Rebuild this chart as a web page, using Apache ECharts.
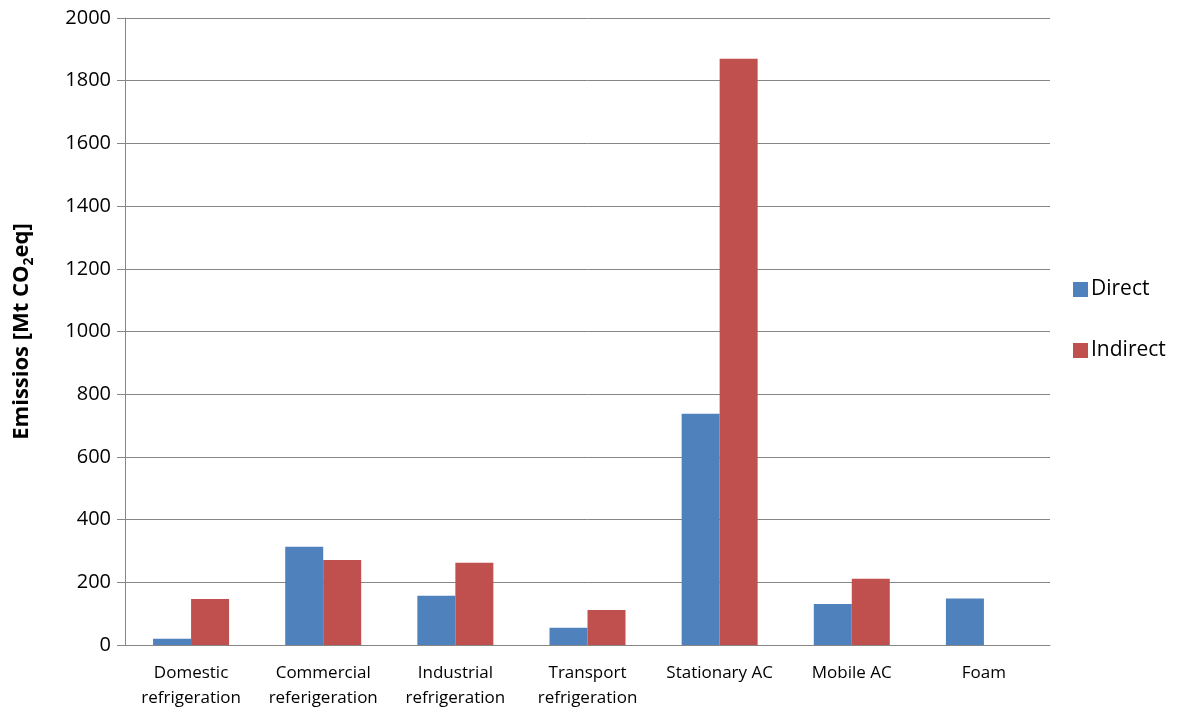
<!DOCTYPE html>
<html>
<head>
<meta charset="utf-8">
<script src="https://cdn.jsdelivr.net/npm/echarts@6/dist/echarts.min.js"></script>
<style>
  html, body { margin: 0; padding: 0; background: #fff; }
  #chart { width: 1184px; height: 713px; }
</style>
</head>
<body>
<div id="chart"></div>
<script>
const categories = [
  "Domestic\nrefrigeration",
  "Commercial\nreferigeration",
  "Industrial\nrefrigeration",
  "Transport\nrefrigeration",
  "Stationary AC",
  "Mobile AC",
  "Foam"
]
const directValues = [20, 313, 157, 55, 738, 131, 148]
const indirectValues = [147, 271, 262, 112, 1870, 211, 0]
const seriesNames = ["Direct", "Indirect"]

const font = "Open Sans"
const myChart = echarts.init(document.getElementById("chart"))

myChart.setOption({
  animation: false,
  textStyle: { fontFamily: font },
  grid: { left: 125, right: 134, top: 18, bottom: 68 },
  legend: {
    orient: "vertical",
    left: 1068,
    top: 274,
    itemWidth: 15,
    itemHeight: 15,
    itemGap: 40,
    icon: "rect",
    textStyle: { fontSize: 21, color: "#000", fontFamily: font, padding: [0, 0, 0, -2] },
    data: seriesNames
  },
  xAxis: {
    type: "category",
    data: categories,
    axisLine: { lineStyle: { color: "#868686", width: 1 } },
    axisTick: { length: 8, lineStyle: { color: "#868686" } },
    axisLabel: { fontSize: 17, color: "#000", lineHeight: 25, margin: 16, interval: 0 }
  },
  yAxis: {
    type: "value",
    min: 0,
    max: 2000,
    interval: 200,
    name: "{a|Emissios [Mt CO}{s|2}{a|eq}{a|]}",
    nameLocation: "middle",
    nameGap: 92,
    nameRotate: 90,
    nameTextStyle: {
      rich: {
        a: { fontSize: 22, fontWeight: "bold", color: "#000", fontFamily: font, lineHeight: 28, verticalAlign: "bottom" },
        s: { fontSize: 14, fontWeight: "bold", color: "#000", fontFamily: font, lineHeight: 14, verticalAlign: "bottom", padding: [0, 0, -3, 0] }
      }
    },
    axisLine: { show: true, lineStyle: { color: "#868686", width: 1 } },
    axisTick: { show: true, length: 8, lineStyle: { color: "#868686" } },
    splitLine: { lineStyle: { color: "#868686", width: 1 } },
    axisLabel: { fontSize: 20, color: "#000", margin: 14, formatter: (v) => String(v) }
  },
  series: [
    {
      name: seriesNames[0],
      type: "bar",
      data: directValues,
      barWidth: 38,
      barGap: "0%",
      itemStyle: { color: "#4F81BD" }
    },
    {
      name: seriesNames[1],
      type: "bar",
      data: indirectValues,
      barWidth: 38,
      barGap: "0%",
      itemStyle: { color: "#C0504D" }
    }
  ]
})
</script>
</body>
</html>
